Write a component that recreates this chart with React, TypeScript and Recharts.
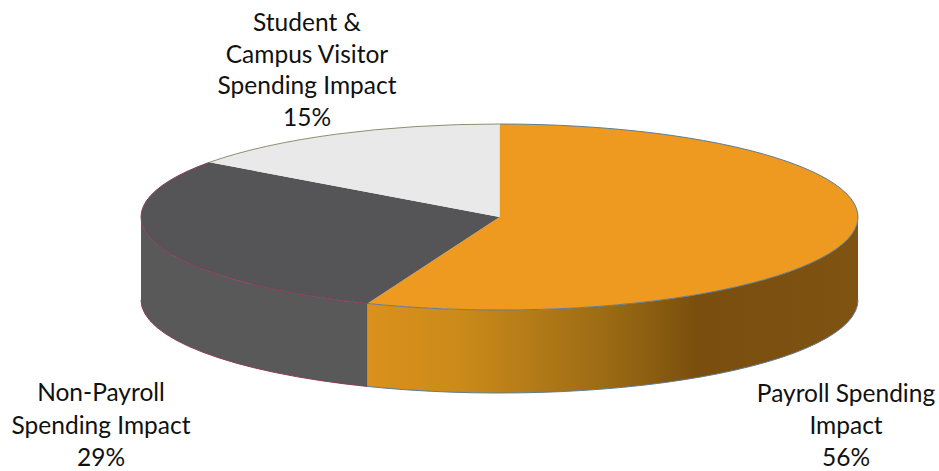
import { Pie, PieChart } from 'recharts';

const categories = ['Payroll Spending Impact', 'Non-Payroll Spending Impact', 'Student & Campus Visitor Spending Impact'];
const shares = [56, 29, 15];
const labelLines = [
  ['Payroll Spending', 'Impact'],
  ['Non-Payroll', 'Spending Impact'],
  ['Student &', 'Campus Visitor', 'Spending Impact'],
];

const topColors = ['#EE9A20', '#555557', '#E9E9EA'];
const wallColors = ['url(#payrollWall)', '#59595A', '#D0D0D0'];
const rimColors = ['#5F7C96', '#8C3D58', '#8E8E70'];

// Where each multi-line label sits: centre x, first baseline y, line step
const labelAnchors = [
  { x: 846, y: 402, step: 32 },
  { x: 101, y: 401, step: 32.5 },
  { x: 307, y: 31, step: 31.5 },
];

const CX = 499.5;
const CY = 217;
const RADIUS_X = 358.5;
const TILT = 93 / 358.5;
const DEPTH = 83;

const pieData = categories.map((name, i) => ({ name, value: shares[i], fill: topColors[i] }));

function ellipsePoint(cx: number, cy: number, rx: number, ry: number, deg: number) {
  const a = (deg * Math.PI) / 180;
  return { x: cx + rx * Math.cos(a), y: cy - ry * Math.sin(a) };
}

// Pie slice squashed into an ellipse, with the visible part of the side wall below it
function TiltedSlice(props: any) {
  const { cx, cy, outerRadius, startAngle, endAngle, index } = props;
  const rx = outerRadius;
  const ry = outerRadius * TILT;
  const p0 = ellipsePoint(cx, cy, rx, ry, startAngle);
  const p1 = ellipsePoint(cx, cy, rx, ry, endAngle);
  const large = Math.abs(startAngle - endAngle) > 180 ? 1 : 0;
  const rim = `M${p0.x},${p0.y} A${rx},${ry} 0 ${large} 1 ${p1.x},${p1.y}`;

  // Only the front half of the disc (0 to -180 degrees) shows a wall
  const wallStart = Math.min(startAngle, 0);
  const wallEnd = Math.max(endAngle, -180);
  let wall = null;
  if (wallStart > wallEnd) {
    const w0 = ellipsePoint(cx, cy, rx, ry, wallStart);
    const w1 = ellipsePoint(cx, cy, rx, ry, wallEnd);
    const wallLarge = wallStart - wallEnd > 180 ? 1 : 0;
    const d =
      `M${w0.x},${w0.y} A${rx},${ry} 0 ${wallLarge} 1 ${w1.x},${w1.y} ` +
      `L${w1.x},${w1.y + DEPTH} A${rx},${ry} 0 ${wallLarge} 0 ${w0.x},${w0.y + DEPTH} Z`;
    const bottom = `M${w0.x},${w0.y + DEPTH} A${rx},${ry} 0 ${wallLarge} 1 ${w1.x},${w1.y + DEPTH}`;
    wall = (
      <g>
        <path d={d} fill={wallColors[index]} stroke="none" />
        <path d={bottom} fill="none" stroke={rimColors[index]} strokeWidth={1} />
      </g>
    );
  }

  return (
    <g>
      {wall}
      <path d={`M${cx},${cy} L${p0.x},${p0.y} A${rx},${ry} 0 ${large} 1 ${p1.x},${p1.y} Z`} fill={topColors[index]} stroke="none" />
      <path d={rim} fill="none" stroke={rimColors[index]} strokeWidth={1} />
    </g>
  );
}

function SliceLabel(props: any) {
  const { index, value } = props;
  const anchor = labelAnchors[index];
  const lines = [...labelLines[index], `${value}%`];
  return (
    <text
      x={anchor.x}
      y={anchor.y}
      textAnchor="middle"
      fontFamily="Lato, 'Open Sans', sans-serif"
      fontSize={24.5}
      fill="#111111"
    >
      {lines.map((line, i) => (
        <tspan key={line} x={anchor.x} dy={i === 0 ? 0 : anchor.step}>
          {line}
        </tspan>
      ))}
    </text>
  );
}

export default function App() {
  return (
    <div style={{ position: 'absolute', left: 0, top: 0, width: 939, height: 471, background: '#fff' }}>
      <PieChart width={939} height={471} margin={{ top: 0, right: 0, bottom: 0, left: 0 }}>
        <defs>
          <linearGradient id="payrollWall" gradientUnits="userSpaceOnUse" x1="362" y1="0" x2="858" y2="0">
            <stop offset="0%" stopColor="#DC911C" />
            <stop offset="20%" stopColor="#CB8A1A" />
            <stop offset="50%" stopColor="#9A6A14" />
            <stop offset="68%" stopColor="#794E0E" />
            <stop offset="100%" stopColor="#7F5312" />
          </linearGradient>
        </defs>
        <Pie
          data={pieData}
          dataKey="value"
          nameKey="name"
          cx={CX}
          cy={CY}
          innerRadius={0}
          outerRadius={RADIUS_X}
          startAngle={90}
          endAngle={-270}
          paddingAngle={0}
          stroke="none"
          shape={TiltedSlice}
          label={SliceLabel}
          labelLine={false}
          isAnimationActive={false}
        />
      </PieChart>
    </div>
  );
}
